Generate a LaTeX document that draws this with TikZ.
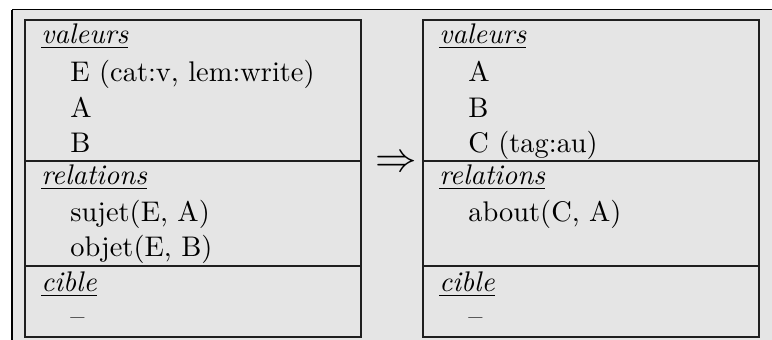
\documentclass[tikz,border=0pt]{standalone}
\usepackage{fontspec}
\setmainfont{lmroman10-regular.otf}[ItalicFont=lmroman10-italic.otf]
\tikzset{
  panel/.style={draw=black!88, line width=1pt},
  divider/.style={draw=black!88, line width=1.4pt},
  hdr/.style={anchor=base west, inner sep=0pt, font=\fontsize{14.2}{17}\selectfont\itshape},
  entry/.style={anchor=base west, inner sep=0pt, font=\fontsize{14.2}{17}\selectfont},
}
\newcommand{\hd}[1]{\underline{#1}}
\begin{document}
\begin{tikzpicture}[x=0.5pt, y=-0.5pt]
  \useasboundingbox (0,0) rectangle (772,340);
  % Grey frame
  \fill[black!10] (12,10) rectangle (772,340);
  \draw[line width=0.5pt] (772,10) -- (12,10);
  \draw[line width=1pt] (12,10) -- (12,340);
  % Left rule
  \draw[panel] (25,20) rectangle (361,337);
  \draw[divider] (25,161) -- (361,161);
  \draw[divider] (25,266) -- (361,266);
  \node[hdr] (lval) at (41,44) {\hd{valeurs}};
  \foreach \y/\txt/\nm in {82/{E (cat:v, lem:write)}/le, 118/A/la, 153/B/lb}{
    \node[entry] (\nm) at (70,\y) {\txt};
  }
  \node[hdr] (lrel) at (41,185) {\hd{relations}};
  \node[entry] (lsuj) at (70,222) {sujet(E, A)};
  \node[entry] (lobj) at (70,257) {objet(E, B)};
  \node[hdr] (lcib) at (41,292) {\hd{cible}};
  \node[entry] (ldash) at (70,326) {--};
  % Arrow
  \node[inner sep=0pt, font=\fontsize{20}{22}\selectfont] (arr) at (396,164) {$\Rightarrow$};
  % Right rule
  \draw[panel] (423,20) rectangle (759,337);
  \draw[divider] (423,161) -- (759,161);
  \draw[divider] (423,266) -- (759,266);
  \node[hdr] (rval) at (439,44) {\hd{valeurs}};
  \foreach \y/\txt/\nm in {82/A/ra, 118/B/rb, 153/{C (tag:au)}/rc}{
    \node[entry] (\nm) at (468,\y) {\txt};
  }
  \node[hdr] (rrel) at (439,185) {\hd{relations}};
  \node[entry] (rabt) at (468,222) {about(C, A)};
  \node[hdr] (rcib) at (439,292) {\hd{cible}};
  \node[entry] (rdash) at (468,326) {--};
\end{tikzpicture}
\end{document}
